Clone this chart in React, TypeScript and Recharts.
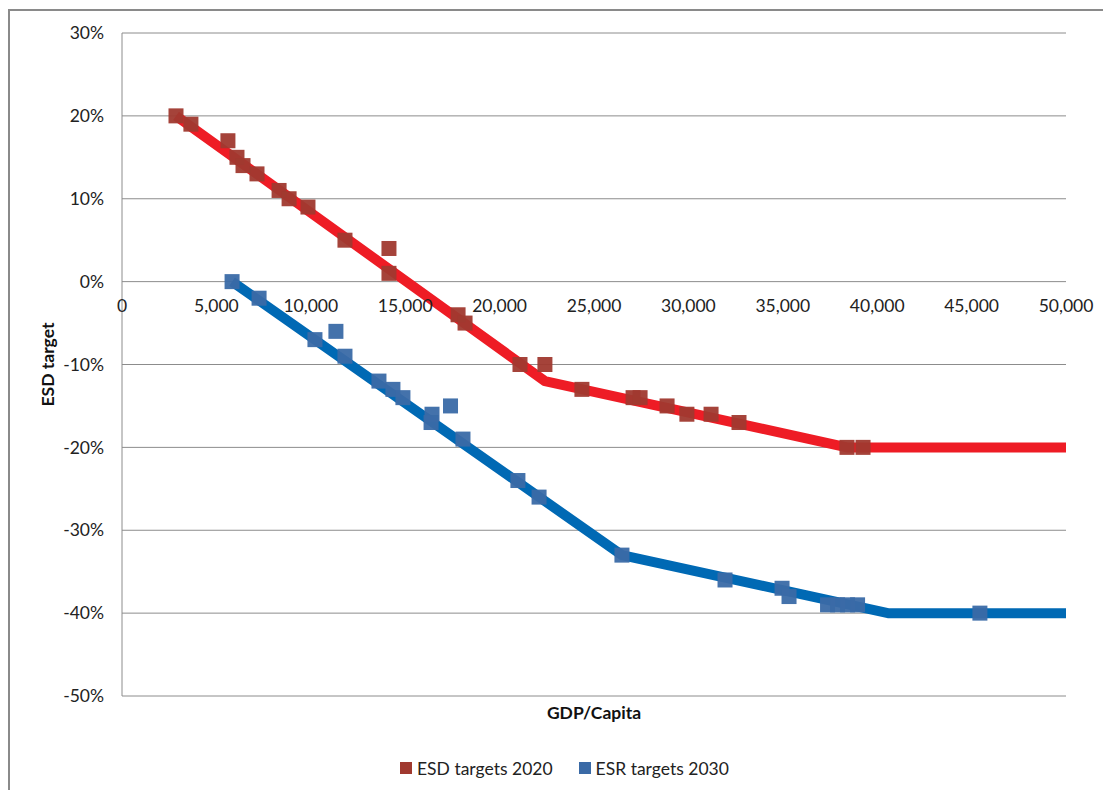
import { ScatterChart, Scatter, XAxis, YAxis, CartesianGrid, Legend } from 'recharts';

// ESD targets 2020: GDP per capita vs target (%)
const esdGdp = [2860, 3650, 5610, 6090, 6410, 7150, 8320, 8850, 9850, 11810, 14140, 14140, 17800, 18170, 21080, 22400, 24360, 27070, 27440, 28870, 29920, 31200, 32680, 38400, 39250];
const esdTarget = [20, 19, 17, 15, 14, 13, 11, 10, 9, 5, 4, 1, -4, -5, -10, -10, -13, -14, -14, -15, -16, -16, -17, -20, -20];

// ESR targets 2030
const esrGdp = [5830, 7260, 10220, 11330, 11810, 13610, 14350, 14880, 16420, 16370, 17400, 18060, 20970, 22090, 26480, 31940, 34960, 35330, 37370, 37900, 38430, 38960, 45440];
const esrTarget = [0, -2, -7, -6, -9, -12, -13, -14, -16, -17, -15, -19, -24, -26, -33, -36, -37, -38, -39, -39, -39, -39, -40];

// target curves (piecewise linear)
const esdCurveGdp = [2860, 22400, 38400, 50000];
const esdCurveTarget = [20, -12, -20, -20];
const esrCurveGdp = [5830, 26480, 40570, 50000];
const esrCurveTarget = [0, -33, -40, -40];

const xTicks = [0, 5000, 10000, 15000, 20000, 25000, 30000, 35000, 40000, 45000, 50000];
const yTicks = [-50, -40, -30, -20, -10, 0, 10, 20, 30];

const zip = (xs: number[], ys: number[]) => xs.map((x, i) => ({ x, y: ys[i] }));

const esdPoints = zip(esdGdp, esdTarget);
const esrPoints = zip(esrGdp, esrTarget);
const esdCurve = zip(esdCurveGdp, esdCurveTarget);
const esrCurve = zip(esrCurveGdp, esrCurveTarget);

const FONT = 'Lato, "Open Sans", sans-serif';
const FS = 17.5;
const RED_LINE = '#EE1C25';
const BLUE_LINE = '#0069B4';
const RED_MARK = '#A0392F';
const BLUE_MARK = '#3A6AA6';

const W = 1103;
const H = 790;
const MARGIN = { top: 33, right: 37, left: 0, bottom: 7 };
const Y_AXIS_W = 122;
const X_AXIS_H = 57;
const LEGEND_H = 30;
const PLOT_TOP = MARGIN.top;
const PLOT_H = H - MARGIN.top - MARGIN.bottom - X_AXIS_H - LEGEND_H;
const Y_MIN = -50;
const Y_MAX = 30;
// x axis crosses at 0%
const zeroY = PLOT_TOP + (PLOT_H * (Y_MAX - 0)) / (Y_MAX - Y_MIN);

const square = (color: string) => (props: any) => {
  const { cx, cy } = props;
  if (cx == null || cy == null) return <g />;
  return <rect x={cx - 7.5} y={cy - 7.5} width={15} height={15} fill={color} fillOpacity={0.95} />;
};

const noShape = () => <g />;

const XTick = (props: any) => {
  const { x, payload } = props;
  return (
    <text x={x} y={zeroY + 24} textAnchor="middle" dominantBaseline="central" fill="#222" fontSize={FS} fontFamily={FONT}>
      {payload.value.toLocaleString('en-US')}
    </text>
  );
};

const LegendContent = () => (
  <div style={{ display: 'flex', alignItems: 'center', height: LEGEND_H, paddingLeft: 400, fontFamily: FONT, fontSize: FS, color: '#222' }}>
    <span style={{ width: 12, height: 12, background: RED_MARK, display: 'inline-block', marginRight: 5 }} />
    <span>ESD targets 2020</span>
    <span style={{ width: 12, height: 12, background: BLUE_MARK, display: 'inline-block', marginLeft: 26, marginRight: 5 }} />
    <span>ESR targets 2030</span>
  </div>
);

export default function App() {
  return (
    <div style={{ position: 'fixed', left: 0, top: 0, width: W, height: H, overflow: 'hidden', background: '#fff' }}>
      <div style={{ position: 'absolute', left: 8, top: 9, width: W + 20, height: H + 20, border: '2px solid #8a8a8a' }} />
      <div style={{ position: 'absolute', left: 0, top: 0 }}>
        <ScatterChart width={W} height={H} margin={MARGIN}>
          <CartesianGrid vertical={false} stroke="#8c8c8c" />
          <XAxis
            type="number"
            dataKey="x"
            domain={[0, 50000]}
            ticks={xTicks}
            interval={0}
            axisLine={false}
            tickLine={false}
            height={X_AXIS_H}
            tick={<XTick />}
            label={{ value: 'GDP/Capita', position: 'insideTop', offset: 11, fontFamily: FONT, fontSize: FS, fontWeight: 700, fill: '#111' }}
          />
          <YAxis
            type="number"
            dataKey="y"
            domain={[Y_MIN, Y_MAX]}
            ticks={yTicks}
            interval={0}
            width={Y_AXIS_W}
            axisLine={{ stroke: '#8c8c8c' }}
            tickLine={false}
            tickSize={0}
            tickMargin={18}
            tickFormatter={(v) => `${v}%`}
            tick={{ fill: '#222', fontSize: FS, fontFamily: FONT }}
            label={{ value: 'ESD target', angle: -90, position: 'insideLeft', offset: 48, fontFamily: FONT, fontSize: FS, fontWeight: 700, fill: '#111', style: { textAnchor: 'middle' } }}
          />
          <Legend verticalAlign="bottom" height={LEGEND_H} content={<LegendContent />} />
          <Scatter data={esdCurve} line={{ stroke: RED_LINE, strokeWidth: 10, strokeLinejoin: 'round' }} shape={noShape} legendType="none" isAnimationActive={false} />
          <Scatter data={esrCurve} line={{ stroke: BLUE_LINE, strokeWidth: 10, strokeLinejoin: 'round' }} shape={noShape} legendType="none" isAnimationActive={false} />
          <Scatter name="ESD targets 2020" data={esdPoints} shape={square(RED_MARK)} isAnimationActive={false} />
          <Scatter name="ESR targets 2030" data={esrPoints} shape={square(BLUE_MARK)} isAnimationActive={false} />
        </ScatterChart>
      </div>
    </div>
  );
}
